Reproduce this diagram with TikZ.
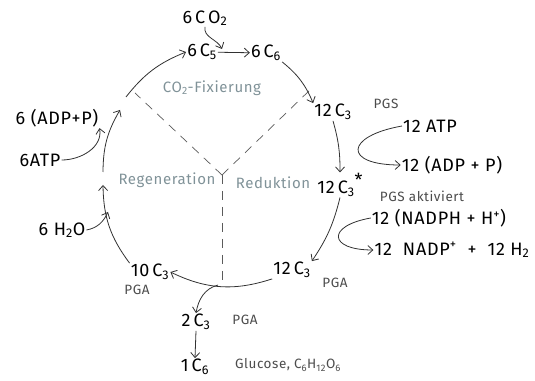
\documentclass[tikz,border=0pt]{standalone}
\usepackage{fontspec}
\setmainfont{Fira Sans}[LetterSpace=4]
\usetikzlibrary{arrows.meta, positioning}
\definecolor{phasegray}{RGB}{128,146,152}
\definecolor{inkgray}{RGB}{50,50,50}
\tikzstyle{chem} = [inner sep=1pt, text=black, font=\fontsize{18}{21}\selectfont]
\tikzstyle{note} = [inner sep=1pt, text=black!70, font=\fontsize{13.5}{16}\selectfont]
\tikzstyle{phase} = [inner sep=1pt, text=phasegray, font=\fontsize{15}{17}\selectfont]
\tikzstyle{flow} = [draw=inkgray, line width=0.8pt, ->, >={Straight Barb[length=5pt,width=9pt]}]
\tikzstyle{border} = [draw=inkgray!80, line width=0.7pt, dash pattern=on 9pt off 7pt]

\begin{document}
\begin{tikzpicture}[x=1pt, y=1pt]

    \useasboundingbox (0,0) rectangle (535,380);

    % Calvin cycle
    \node[chem] (co2) at (205, 362) {6\,C\,O\textsubscript{2}};
    \node[chem] (cfive) at (202, 328) {6\,C\textsubscript{5}};
    \node[chem] (csix) at (266, 327) {6\,C\textsubscript{6}};
    \node[chem] (cthreeA) at (333, 268) {12\,C\textsubscript{3}};
    \node[chem] (cthreeS) at (340, 195) {12\,C\textsubscript{3}\raisebox{0.7ex}{*}};
    \node[chem] (cthreeB) at (292, 110) {12\,C\textsubscript{3}};
    \node[chem] (cten) at (150, 108) {10\,C\textsubscript{3}};
    \node[chem] (ctwo) at (196, 58) {2\,C\textsubscript{3}};
    \node[chem] (cglc) at (195, 13) {1\,C\textsubscript{6}};

    % Side reactions
    \node[chem] (atp) at (430, 254) {12 ATP};
    \node[chem] (adpA) at (452, 215) {12 (ADP + P)};
    \node[chem] (nadph) at (439, 162) {12 (NADPH + H\textsuperscript{+})};
    \node[chem] (nadp) at (452, 130) {12\ \ NADP\textsuperscript{+}\ \ +\ \ 12\ H\textsubscript{2}};
    \node[chem] (adpB) at (57, 262) {6 (ADP+P)};
    \node[chem] (atpB) at (40, 220) {6ATP};
    \node[chem] (water) at (62, 150) {6 H\textsubscript{2}O};

    % Notes
    \node[note] (pgs) at (386, 276) {PGS};
    \node[note] (pgsAkt) at (422, 184) {PGS aktiviert};
    \node[note] (pgaB) at (335, 97) {PGA};
    \node[note] (pgaC) at (137, 90) {PGA};
    \node[note] (pgaD) at (245, 60) {PGA};
    \node[note] (glc) at (288, 15) {Glucose, C\textsubscript{6}H\textsubscript{12}O\textsubscript{6}};

    % Phases
    \node[phase] (fix) at (212, 292) {CO\textsubscript{2}-Fixierung};
    \node[phase] (regen) at (167, 200) {Regeneration};
    \node[phase] (redu) at (273, 197) {Reduktion};

    % Points on the cycle
    \coordinate (mid) at (222, 205);
    \coordinate (fixEdge) at (135, 287);
    \coordinate (reduEdge) at (312, 292);
    \coordinate (botEdge) at (222, 95);
    \coordinate (join) at (222, 331);
    \coordinate (leftA) at (103, 195);
    \coordinate (leftB) at (103, 208);
    \coordinate (leftC) at (120, 270);
    \coordinate (leftD) at (126, 283);
    \coordinate (waterIn) at (108, 168);
    \coordinate (branch) at (218, 95);

    % Phase borders
    \draw[border] (mid) -- (fixEdge);
    \draw[border] (mid) -- (reduEdge);
    \draw[border] (mid) -- (botEdge);

    % Cycle arrows
    \draw[flow] (co2.south) to[out=-100, in=115] (join);
    \draw[flow] (cfive) -- (csix);
    \draw[flow] (csix.south east) to[bend left=14] (cthreeA.north west);
    \draw[flow] (cthreeA.south) to[bend left=8] (cthreeS.north);
    \draw[flow] (cthreeS.south) to[bend left=10] (cthreeB.north east);
    \draw[flow] (cthreeB.south west) to[bend left=22] (cten.east);
    \draw[flow] (cten.north west) to[bend left=18] (leftA);
    \draw[flow] (leftB) to[bend left=15] (leftC);
    \draw[flow] (leftD) to[bend left=15] (cfive.west);

    % Branch to glucose
    \draw[flow] (branch) to[out=195, in=80] (ctwo.north);
    \draw[flow] (ctwo.south) -- (cglc.north);

    % Energy carriers
    \draw[flow] (atp.west) to[out=190, in=180, looseness=3.8] (adpA.west);
    \draw[flow] (nadph.west) to[out=190, in=180, looseness=3.6] (nadp.west);
    \draw[flow] (atpB.east) to[out=0, in=-80] (adpB.south east);
    \draw[flow] (water.east) to[out=10, in=-115] (waterIn);

\end{tikzpicture}
\end{document}
